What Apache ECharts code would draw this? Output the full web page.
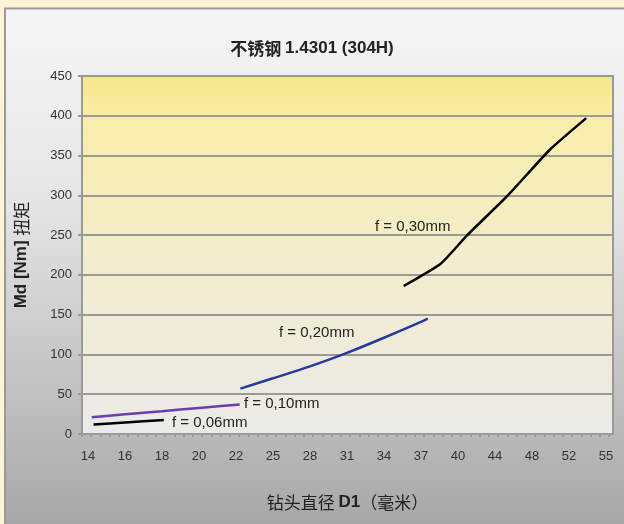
<!DOCTYPE html>
<html>
<head>
<meta charset="utf-8">
<script src="https://cdn.jsdelivr.net/npm/echarts@6/dist/echarts.min.js"></script>
<style>
html,body{margin:0;padding:0;background:#FEF3D4;}
#chart{width:624px;height:524px;}
</style>
</head>
<body>
<div id="chart"></div>
<script>
// X tick labels (drill diameter, mm) - evenly spaced on the axis
const xTicks = [14, 16, 18, 20, 22, 25, 28, 31, 34, 37, 40, 44, 48, 52, 55];
const yTicks = [0, 50, 100, 150, 200, 250, 300, 350, 400, 450];

// Series: drill diameter D1 (mm) and torque Md (Nm)
const d006 = [14.3, 16, 18.1];
const m006 = [12, 14.5, 17.6];

const d010 = [14.2, 16, 18, 20, 22.3];
const m010 = [21, 24.7, 28.6, 32.7, 37];

const d020 = [22.35, 25, 28, 31, 34, 37, 37.55];
const m020 = [57, 70, 85, 102, 121, 141, 145];

const d030 = [35.6, 38.6, 41, 45.4, 49.9, 53.4];
const m030 = [186, 214, 250, 300, 357, 397];

const seriesNames = ['f = 0,06mm', 'f = 0,10mm', 'f = 0,20mm', 'f = 0,30mm'];

// position of a diameter on the evenly spaced label axis
function toAxis(d) {
  for (let i = 0; i < xTicks.length - 1; i++) {
    if (d <= xTicks[i + 1] || i === xTicks.length - 2) {
      return i + (d - xTicks[i]) / (xTicks[i + 1] - xTicks[i]);
    }
  }
}
function pts(ds, ms) { return ds.map((d, i) => [toAxis(d), ms[i]]); }

const xMin = -0.162, xMax = 14.19;
const minorTicks = [];
for (let v = xMin; v <= xMax + 1e-6; v += 0.25) minorTicks.push(v);

const chart = echarts.init(document.getElementById('chart'), null, {renderer: 'canvas'});
const font = 'Liberation Sans, Arial, sans-serif';

chart.setOption({
  backgroundColor: '#FEF3D4',
  animation: false,
  graphic: [
    {
      type: 'rect', z: -10, silent: true,
      shape: {x: 5, y: 8.5, width: 640, height: 540},
      style: {
        fill: new echarts.graphic.LinearGradient(0, 0, 0, 1, [
          {offset: 0, color: '#F6F6F6'},
          {offset: 0.35, color: '#E6E6E6'},
          {offset: 1, color: '#A3A3A3'}
        ]),
        stroke: '#9A9A9A', lineWidth: 2
      }
    },
    {type: 'text', left: 375, top: 219, style: {text: seriesNames[3], font: '15px ' + font, fill: '#222'}},
    {type: 'text', left: 279, top: 325, style: {text: seriesNames[2], font: '15px ' + font, fill: '#222'}},
    {type: 'text', left: 244, top: 396, style: {text: seriesNames[1], font: '15px ' + font, fill: '#222'}},
    {type: 'text', left: 172, top: 415, style: {text: seriesNames[0], font: '15px ' + font, fill: '#222'}}
  ],
  title: {
    text: '{n|不锈钢 }{b|1.4301 (304H)}',
    left: 'center', top: 35,
    textStyle: {
      rich: {
        n: {fontSize: 17, fontFamily: 'Noto Sans CJK SC, ' + font, color: '#222'},
        b: {fontSize: 17, fontWeight: 'bold', fontFamily: font, color: '#222'}
      }
    }
  },
  grid: {
    left: 82, top: 76, right: 11, bottom: 90,
    show: true,
    backgroundColor: new echarts.graphic.LinearGradient(0, 0, 0, 1, [
      {offset: 0, color: '#F7E688'},
      {offset: 0.12, color: '#F9EEA9'},
      {offset: 0.5, color: '#F3EDCC'},
      {offset: 1, color: '#EAEAE9'}
    ]),
    borderColor: '#9A9A9A', borderWidth: 2
  },
  xAxis: {
    type: 'value', min: xMin, max: xMax,
    name: '{n|钻头直径 }{b|D1}{n|（毫米）}',
    nameLocation: 'middle', nameGap: 60,
    nameTextStyle: {
      rich: {
        n: {fontSize: 17, fontFamily: 'Noto Sans CJK SC, ' + font, color: '#222'},
        b: {fontSize: 17, fontWeight: 'bold', fontFamily: font, color: '#222'}
      }
    },
    axisLine: {show: true, onZero: false, lineStyle: {color: '#9A9A9A', width: 2}},
    axisTick: {show: true, customValues: minorTicks, length: 3, lineStyle: {color: '#9A9A9A', width: 2}},
    axisLabel: {
      customValues: xTicks.map((t, i) => i),
      formatter: v => String(xTicks[Math.round(v)]),
      margin: 16, fontSize: 13, fontFamily: font, color: '#333'
    },
    splitLine: {show: false}
  },
  yAxis: {
    type: 'value', min: 0, max: 450, interval: 50,
    name: '{b|Md [Nm] }{n|扭矩}',
    nameLocation: 'middle', nameGap: 52, nameRotate: 90,
    nameTextStyle: {
      rich: {
        n: {fontSize: 17, fontFamily: 'Noto Sans CJK SC, ' + font, color: '#222'},
        b: {fontSize: 17, fontWeight: 'bold', fontFamily: font, color: '#222'}
      }
    },
    axisLine: {show: true, onZero: false, lineStyle: {color: '#9A9A9A', width: 2}},
    axisTick: {show: true, length: 4, lineStyle: {color: '#9A9A9A', width: 2}},
    axisLabel: {
      formatter: v => yTicks.includes(v) ? String(v) : '',
      margin: 10, fontSize: 13, fontFamily: font, color: '#333'
    },
    splitLine: {show: true, lineStyle: {color: '#9A9A9A', width: 2}}
  },
  series: [
    {name: seriesNames[0], type: 'line', data: pts(d006, m006), showSymbol: false, smooth: 0.2,
     lineStyle: {color: '#000', width: 2.5}, z: 5},
    {name: seriesNames[1], type: 'line', data: pts(d010, m010), showSymbol: false, smooth: 0.2,
     lineStyle: {color: '#6A3EAE', width: 2.5}, z: 5},
    {name: seriesNames[2], type: 'line', data: pts(d020, m020), showSymbol: false, smooth: 0.3,
     lineStyle: {color: '#27399C', width: 2.5}, z: 5},
    {name: seriesNames[3], type: 'line', data: pts(d030, m030), showSymbol: false, smooth: 0.15,
     lineStyle: {color: '#000', width: 2.5}, z: 5}
  ]
});
</script>
</body>
</html>
